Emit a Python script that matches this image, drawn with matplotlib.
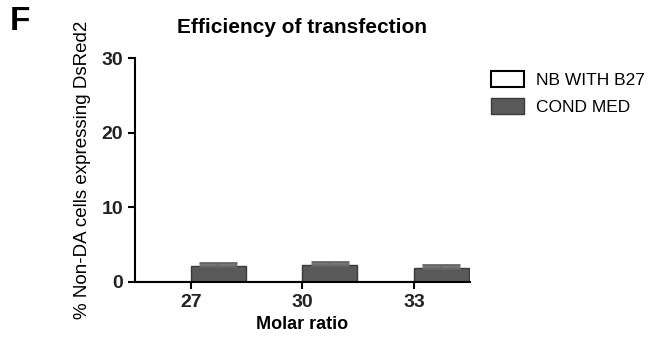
import numpy as np
import matplotlib
matplotlib.use("Agg")
import matplotlib.pyplot as plt

plt.rcParams['font.family'] = ['Liberation Sans', 'DejaVu Sans']

ratios = ["27", "30", "33"]
nb_b27 = [0.0, 0.0, 0.0]
cond_med = [2.1, 2.3, 1.85]
cond_med_err = [0.4, 0.4, 0.45]

fig = plt.figure(figsize=(6.59, 3.38), dpi=100)
ax = fig.add_axes([0.205, 0.166, 0.508, 0.662])

x = np.arange(len(ratios))
w = 0.49
ax.bar(x - w / 2, nb_b27, w, color="white", edgecolor="black", linewidth=1.5,
       label="NB WITH B27")
ax.bar(x + w / 2, cond_med, w, color="#595959", edgecolor="#3a3a3a", linewidth=1,
       label="COND MED")
ax.errorbar(x + w / 2, cond_med, yerr=[[0] * 3, cond_med_err], fmt="none",
            ecolor="#666666", elinewidth=1.2, capsize=14, capthick=2)

ax.set_xlim(-0.5, 2.5)
ax.set_ylim(0, 30)
ax.set_yticks([0, 10, 20, 30])
ax.set_xticks(x)
ax.set_xticklabels(ratios)
for s in ["top", "right"]:
    ax.spines[s].set_visible(False)
for s in ["left", "bottom"]:
    ax.spines[s].set_linewidth(1.5)
ax.tick_params(width=1.5, length=5, labelsize=14)
for lab in ax.get_xticklabels() + ax.get_yticklabels():
    lab.set_fontweight("bold")
    lab.set_color("#222222")

ax.set_xlabel("Molar ratio", fontsize=13, fontweight="bold", labelpad=4)
ax.set_ylabel("% Non-DA cells expressing DsRed2", fontsize=13.5, labelpad=8)
ax.set_title("Efficiency of transfection", fontsize=15, fontweight="bold", pad=18)

fig.text(0.015, 0.91, "F", fontsize=24, fontweight="bold")

ax.legend(loc="upper left", bbox_to_anchor=(0.735, 0.81),
          bbox_transform=fig.transFigure, frameon=False,
          fontsize=12.5, handlelength=1.9, handleheight=1.0, handletextpad=0.7,
          labelspacing=0.6, borderaxespad=0)

fig.savefig("out.png", dpi=100)
